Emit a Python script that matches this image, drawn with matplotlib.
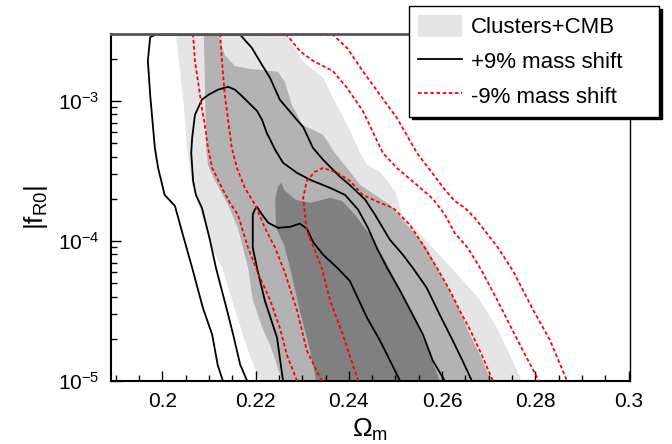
import numpy as np
import matplotlib
matplotlib.use("Agg")
from matplotlib import pyplot as plt
from matplotlib.ticker import MultipleLocator, LogLocator, NullFormatter

plt.rcParams['font.family'] = ['Liberation Sans', 'DejaVu Sans']
plt.rcParams['mathtext.fontset'] = 'custom'
plt.rcParams['mathtext.rm'] = 'Liberation Sans'
plt.rcParams['mathtext.it'] = 'Liberation Sans:italic'
plt.rcParams['mathtext.bf'] = 'Liberation Sans:bold'

# Clusters+CMB filled regions (outer, middle, inner), closed outlines
ccmb_out_om = [0.2029, 0.2038, 0.2047, 0.2053, 0.2064, 0.2081, 0.2109, 0.2130, 0.2156, 0.2184, 0.2209,
               0.2771, 0.2745, 0.2720, 0.2681, 0.2634, 0.2574, 0.2514, 0.2499, 0.2467, 0.2439, 0.2424,
               0.2402, 0.2366, 0.2345, 0.2300, 0.2267]
ccmb_out_fr = [3.0e-3, 1.66e-3, 8.6e-4, 4.5e-4, 2.5e-4, 1.67e-4, 8.6e-5, 6.2e-5, 3.2e-5, 1.65e-5, 1.0e-5,
               1.0e-5, 1.54e-5, 2.32e-5, 3.8e-5, 5.7e-5, 9.4e-5, 1.54e-4, 2.28e-4, 3.11e-4, 3.49e-4, 4.25e-4,
               6.21e-4, 1.05e-3, 1.46e-3, 1.93e-3, 3.0e-3]

ccmb_mid_om = [0.2089, 0.2092, 0.2094, 0.2098, 0.2113, 0.2141, 0.2162, 0.2184, 0.2194, 0.2216, 0.2231, 0.2257,
               0.2705, 0.2681, 0.2655, 0.2627, 0.2595, 0.2567, 0.2525, 0.2488, 0.2424, 0.2396, 0.2370,
               0.2345, 0.2300, 0.2278, 0.2263, 0.2248, 0.2214, 0.2188, 0.2156, 0.2134, 0.2119]
ccmb_mid_fr = [3.0e-3, 1.02e-3, 4.62e-4, 3.49e-4, 2.69e-4, 1.81e-4, 1.24e-4, 6.43e-5, 3.8e-5, 2.32e-5, 1.82e-5, 1.0e-5,
               1.0e-5, 1.54e-5, 2.32e-5, 3.8e-5, 5.93e-5, 8.93e-5, 1.30e-4, 1.81e-4, 2.51e-4, 3.32e-4, 4.25e-4,
               5.72e-4, 6.74e-4, 9.36e-4, 1.36e-3, 1.61e-3, 1.66e-3, 1.69e-3, 1.77e-3, 2.12e-3, 3.0e-3]

ccmb_in_om = [0.2330, 0.2317, 0.2295, 0.2274, 0.2261, 0.2244, 0.2242, 0.2248, 0.2255, 0.2261, 0.2285,
              0.2317, 0.2360, 0.2385, 0.2413, 0.2445, 0.2477, 0.2499, 0.2531, 0.2570, 0.2595]
ccmb_in_fr = [1.0e-5, 1.65e-5, 3.18e-5, 6.43e-5, 9.38e-5, 1.24e-4, 1.97e-4, 2.43e-4, 2.60e-4, 2.32e-4, 1.97e-4,
              1.87e-4, 2.03e-4, 1.93e-4, 1.54e-4, 1.11e-4, 7.33e-5, 5.28e-5, 3.23e-5, 1.67e-5, 1.0e-5]

# +9% mass shift contours (black)
plus_out_om = [0.2130, 0.2119, 0.2107, 0.2087, 0.2064, 0.2044, 0.2027, 0.2005, 0.1991, 0.1984, 0.1974, 0.1969,
               0.1974, 0.1985, 0.2167, 0.2192, 0.2214, 0.2231, 0.2252, 0.2285, 0.2302, 0.2323, 0.2345, 0.2381,
               0.2402, 0.2435, 0.2456, 0.2488, 0.2516, 0.2537, 0.2567, 0.2595, 0.2623, 0.2645, 0.2664]
plus_out_fr = [1.0e-5, 1.29e-5, 2.14e-5, 3.33e-5, 6.43e-5, 1.11e-4, 1.78e-4, 2.13e-4, 3.32e-4, 4.62e-4, 1.10e-3, 1.93e-3,
               2.85e-3, 2.96e-3, 2.96e-3, 2.39e-3, 1.80e-3, 1.46e-3, 1.02e-3, 7.56e-4, 6.52e-4, 4.62e-4, 3.79e-4, 2.87e-4,
               2.51e-4, 1.97e-4, 1.54e-4, 1.02e-4, 7.96e-5, 6.43e-5, 4.63e-5, 2.97e-5, 1.94e-5, 1.37e-5, 1.0e-5]

plus_mid_om = [0.2182, 0.2167, 0.2152, 0.2139, 0.2115, 0.2102, 0.2085, 0.2072, 0.2066, 0.2062, 0.2064, 0.2070,
               0.2085, 0.2098, 0.2119, 0.2141, 0.2156, 0.2171, 0.2203, 0.2214, 0.2224, 0.2242, 0.2259, 0.2289,
               0.2317, 0.2360, 0.2392, 0.2420, 0.2441, 0.2462, 0.2482, 0.2510, 0.2537, 0.2559, 0.2580, 0.2606]
plus_mid_fr = [1.0e-5, 1.31e-5, 2.14e-5, 3.18e-5, 6.43e-5, 1.02e-4, 1.72e-4, 2.13e-4, 2.69e-4, 4.25e-4, 5.44e-4, 7.94e-4,
               1.02e-3, 1.10e-3, 1.20e-3, 1.26e-3, 1.20e-3, 1.08e-3, 8.48e-4, 7.31e-4, 5.91e-4, 4.47e-4, 3.61e-4, 3.06e-4,
               2.73e-4, 2.39e-4, 2.13e-4, 1.67e-4, 1.24e-4, 8.64e-5, 6.43e-5, 4.41e-5, 2.97e-5, 2.14e-5, 1.40e-5, 1.0e-5]

plus_in_om = [0.2259, 0.2246, 0.2220, 0.2203, 0.2194, 0.2194, 0.2199, 0.2203, 0.2214, 0.2227, 0.2248,
              0.2274, 0.2295, 0.2310, 0.2323, 0.2345, 0.2375, 0.2402, 0.2439, 0.2467, 0.2510]
plus_in_fr = [1.0e-5, 2.04e-5, 3.74e-5, 6.43e-5, 8.93e-5, 1.54e-4, 1.69e-4, 1.75e-4, 1.54e-4, 1.35e-4, 1.24e-4,
              1.26e-4, 1.33e-4, 1.22e-4, 9.86e-5, 7.96e-5, 6.43e-5, 5.19e-5, 2.83e-5, 1.94e-5, 1.0e-5]

# -9% mass shift contours (red dashed)
minus_out_om = [0.2289, 0.2267, 0.2252, 0.2231, 0.2205, 0.2184, 0.2162, 0.2145, 0.2128, 0.2107, 0.2098, 0.2092,
                0.2085, 0.2070, 0.2066, 0.2366, 0.2396, 0.2430, 0.2467, 0.2503, 0.2546, 0.2574, 0.2606, 0.2627,
                0.2649, 0.2670, 0.2692, 0.2720, 0.2752, 0.2795, 0.2831, 0.2868]
minus_out_fr = [1.0e-5, 1.54e-5, 2.40e-5, 3.80e-5, 5.93e-5, 8.93e-5, 1.54e-4, 1.87e-4, 2.39e-4, 3.32e-4, 4.62e-4, 6.41e-4,
                8.91e-4, 1.93e-3, 2.96e-3, 2.96e-3, 2.39e-3, 1.63e-3, 1.10e-3, 7.56e-4, 4.25e-4, 3.21e-4, 2.32e-4, 1.93e-4,
                1.72e-4, 1.46e-4, 1.18e-4, 8.93e-5, 6.12e-5, 3.23e-5, 1.97e-5, 1.0e-5]

minus_mid_om = [0.2342, 0.2310, 0.2289, 0.2263, 0.2242, 0.2220, 0.2199, 0.2177, 0.2160, 0.2149, 0.2134, 0.2128, 0.2124,
                0.2267, 0.2295, 0.2323, 0.2366, 0.2396, 0.2430, 0.2473, 0.2503, 0.2546, 0.2580, 0.2606, 0.2627,
                0.2655, 0.2685, 0.2718, 0.2745, 0.2778, 0.2808]
minus_mid_fr = [1.0e-5, 1.65e-5, 3.18e-5, 5.93e-5, 8.93e-5, 1.24e-4, 1.81e-4, 2.39e-4, 3.32e-4, 4.62e-4, 1.10e-3, 1.93e-3, 2.96e-3,
                2.96e-3, 2.27e-3, 1.93e-3, 1.63e-3, 1.24e-3, 8.48e-4, 4.25e-4, 3.32e-4, 2.51e-4, 2.0e-4, 1.54e-4, 1.14e-4,
                8.93e-5, 6.12e-5, 3.80e-5, 2.52e-5, 1.54e-5, 1.0e-5]

minus_in_om = [0.2420, 0.2387, 0.2360, 0.2342, 0.2310, 0.2302, 0.2310, 0.2327, 0.2345,
               0.2375, 0.2402, 0.2430, 0.2467, 0.2495, 0.2531, 0.2559, 0.2589, 0.2617, 0.2638, 0.2660, 0.2685, 0.2709]
minus_in_fr = [1.0e-5, 2.14e-5, 3.74e-5, 6.43e-5, 1.18e-4, 2.03e-4, 2.69e-4, 3.11e-4, 3.32e-4,
               3.06e-4, 2.69e-4, 2.13e-4, 1.87e-4, 1.72e-4, 1.30e-4, 9.38e-5, 6.43e-5, 4.41e-5, 3.18e-5, 2.32e-5, 1.54e-5, 1.0e-5]

x_ticks = [0.2, 0.22, 0.24, 0.26, 0.28, 0.3]
x_ticklabels = ['0.2', '0.22', '0.24', '0.26', '0.28', '0.3']

fig = plt.figure(figsize=(6.72, 4.44), dpi=100)
ax = fig.add_axes([0.1652, 0.1419, 0.7723, 0.7815])

ax.fill(ccmb_out_om, ccmb_out_fr, color='#e5e5e5', lw=0, label='Clusters+CMB', zorder=1)
ax.fill(ccmb_mid_om, ccmb_mid_fr, color='#b3b3b3', lw=0, zorder=1)
ax.fill(ccmb_in_om, ccmb_in_fr, color='#808080', lw=0, zorder=1)

blk = dict(color='black', lw=1.3, zorder=3)
ax.plot(plus_out_om, plus_out_fr, label='+9% mass shift', **blk)
ax.plot(plus_mid_om, plus_mid_fr, **blk)
ax.plot(plus_in_om, plus_in_fr, **blk)

red = dict(color='#ff0000', lw=1.3, ls=(0, (2, 1.4)), zorder=4)
ax.plot(minus_out_om, minus_out_fr, label='-9% mass shift', **red)
ax.plot(minus_mid_om, minus_mid_fr, **red)
ax.plot(minus_in_om, minus_in_fr, **red)

ax.set_yscale('log')
ax.set_xlim(0.189, 0.3003)
ax.set_ylim(1e-5, 3.0e-3)

ax.set_xticks(x_ticks)
ax.set_xticklabels(x_ticklabels)
ax.xaxis.set_minor_locator(MultipleLocator(0.005))
ax.yaxis.set_minor_locator(LogLocator(base=10, subs=np.arange(2, 10)))
ax.yaxis.set_minor_formatter(NullFormatter())
ax.tick_params(which='both', direction='in', top=False, right=False, labelsize=15, width=1.0)
ax.tick_params(which='major', length=7, pad=8)
ax.tick_params(which='minor', length=4)

for side in ['left', 'bottom']:
    ax.spines[side].set_linewidth(1.5)
ax.spines['right'].set_linewidth(1.0)
ax.spines['top'].set_linewidth(2.0)
ax.spines['top'].set_color('#555555')
ax.spines['top'].set_zorder(5)

ax.set_xlabel(r'$\Omega_{\rm m}$', fontsize=19, labelpad=4)
ax.set_ylabel(r'$|\mathrm{f}_{\mathrm{R0}}|$', fontsize=19, labelpad=6)

leg = ax.legend(loc='upper left', bbox_to_anchor=(409 / 672, 1 - 6 / 444, 250 / 672, 0),
                bbox_transform=fig.transFigure, mode='expand', borderaxespad=0,
                fontsize=16, fancybox=False, framealpha=1, edgecolor='black',
                shadow={'color': 'black', 'alpha': 1}, handlelength=2.0, handleheight=1.15,
                handletextpad=0.4, labelspacing=0.5, borderpad=0.4)
leg.get_frame().set_linewidth(1.0)
leg.set_zorder(10)

fig.savefig('out.png', dpi=100)
